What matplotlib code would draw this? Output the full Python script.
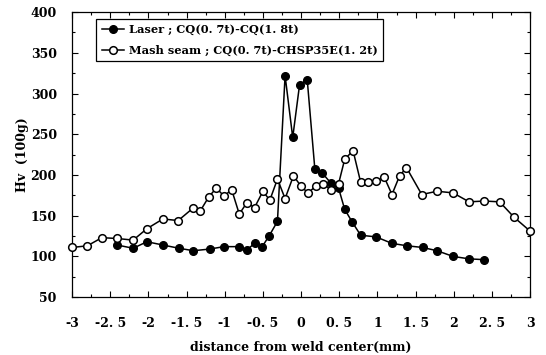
import matplotlib
matplotlib.use("Agg")
import matplotlib.pyplot as plt
from matplotlib.ticker import MultipleLocator, FixedLocator

# Hardness profile across the weld
laser_x = [-2.41, -2.2, -2.02, -1.81, -1.6, -1.41, -1.2, -1.01, -0.81, -0.71, -0.61, -0.51,
           -0.42, -0.31, -0.21, -0.11, -0.02, 0.08, 0.18, 0.28, 0.39, 0.49, 0.57, 0.67,
           0.78, 0.98, 1.19, 1.39, 1.59, 1.78, 1.99, 2.2, 2.4]
laser_y = [114, 110, 118, 114, 110, 107, 109, 112, 112, 108, 116, 112,
           125, 143, 322, 246, 311, 317, 207, 202, 190, 184, 158, 142,
           126, 124, 116, 113, 111, 107, 100, 97, 96]

mash_x = [-3.0, -2.8, -2.61, -2.41, -2.2, -2.02, -1.81, -1.61, -1.42, -1.32, -1.21, -1.11,
          -1.01, -0.91, -0.81, -0.71, -0.61, -0.5, -0.41, -0.31, -0.21, -0.1, 0.0, 0.09,
          0.19, 0.29, 0.39, 0.49, 0.57, 0.68, 0.78, 0.88, 0.98, 1.09, 1.19, 1.29, 1.38,
          1.58, 1.78, 1.99, 2.2, 2.4, 2.6, 2.79, 3.0]
mash_y = [111, 113, 123, 122, 120, 134, 146, 144, 159, 156, 173, 184,
          174, 182, 152, 166, 160, 180, 169, 195, 171, 199, 186, 178,
          186, 189, 182, 189, 219, 230, 191, 191, 193, 197, 176, 199, 209,
          176, 180, 178, 167, 168, 167, 148, 131]

x_ticks = [-3, -2.5, -2, -1.5, -1, -0.5, 0, 0.5, 1, 1.5, 2, 2.5, 3]
x_labels = ["-3", "-2. 5", "-2", "-1. 5", "-1", "-0. 5", "0", "0. 5", "1", "1. 5", "2", "2. 5", "3"]
y_ticks = [50, 100, 150, 200, 250, 300, 350, 400]

font = "DejaVu Serif"

fig = plt.figure(figsize=(5.46, 3.55), dpi=100)
ax = fig.add_axes([0.132, 0.163, 0.839, 0.803])

ax.plot(laser_x, laser_y, color="black", linewidth=1.1, marker="o", markersize=5.5,
        markerfacecolor="black", markeredgecolor="black", clip_on=False, zorder=3,
        label="Laser ; CQ(0. 7t)-CQ(1. 8t)")
ax.plot(mash_x, mash_y, color="black", linewidth=1.1, marker="o", markersize=5.5,
        markerfacecolor="white", markeredgecolor="black", markeredgewidth=1.1,
        clip_on=False, zorder=4, label="Mash seam ; CQ(0. 7t)-CHSP35E(1. 2t)")

ax.set_xlim(-3, 3)
ax.set_ylim(50, 400)
ax.xaxis.set_major_locator(FixedLocator(x_ticks))
ax.set_xticklabels(x_labels)
ax.xaxis.set_minor_locator(MultipleLocator(0.25))
ax.set_yticks(y_ticks)
ax.yaxis.set_minor_locator(MultipleLocator(25))
ax.tick_params(which="both", direction="in", top=True, right=True, width=0.8)
ax.tick_params(which="major", length=4)
ax.tick_params(which="minor", length=2.5)
ax.tick_params(axis="x", which="major", pad=14)
ax.tick_params(axis="y", which="major", pad=11)
for lab in ax.get_xticklabels() + ax.get_yticklabels():
    lab.set_fontfamily(font)
    lab.set_fontweight("bold")
    lab.set_fontsize(9)
for s in ax.spines.values():
    s.set_linewidth(0.9)

ax.set_xlabel("distance from weld center(mm)", fontfamily=font, fontweight="bold",
              fontsize=9, labelpad=8)
ax.set_ylabel("Hv  (100g)", fontfamily=font, fontweight="bold", fontsize=9, labelpad=1)

leg = ax.legend(loc="upper left", bbox_to_anchor=(0.052, 0.977), frameon=True,
                fancybox=False, edgecolor="black", framealpha=1,
                prop={"family": font, "weight": "bold", "size": 8.2},
                handlelength=2.0, borderpad=0.5, labelspacing=0.8, handletextpad=0.4,
                borderaxespad=0)
leg.get_frame().set_linewidth(0.9)

fig.savefig("out.png", dpi=100)
